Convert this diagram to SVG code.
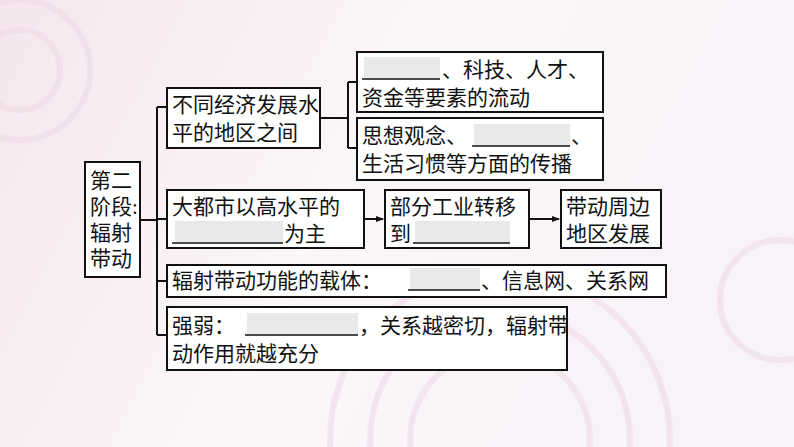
<svg xmlns="http://www.w3.org/2000/svg" width="794" height="447" viewBox="0 0 794 447">
<defs>
<linearGradient id="bg" x1="0" y1="0" x2="1" y2="0.3"><stop offset="0" stop-color="#f6e6ee"/><stop offset="0.5" stop-color="#fbf6f8"/><stop offset="1" stop-color="#f7f3f8"/></linearGradient>
<marker id="ar" markerWidth="8" markerHeight="8" refX="7" refY="4" orient="auto" markerUnits="userSpaceOnUse"><path d="M0,1 L8,4 L0,7 Z" fill="#111"/></marker>
<style>
.box{fill:#fff;stroke:#111;stroke-width:2}
.t{font-family:"Liberation Serif","Noto Sans CJK SC",serif;font-size:21px;fill:#111}
.bl{fill:#e9e9e9}
.ln{stroke:#111;stroke-width:1.5}
.c{fill:none;stroke:#111;stroke-width:2}
</style>
</defs>
<rect width="794" height="447" fill="url(#bg)"/>
<g fill="none" stroke="#f0dbe6" stroke-width="6" opacity="0.6">
<circle cx="20" cy="70" r="40"/><circle cx="20" cy="70" r="70"/>
<circle cx="500" cy="440" r="90"/><circle cx="500" cy="440" r="130"/><circle cx="500" cy="440" r="170"/>
<circle cx="780" cy="300" r="60"/>
</g>
<g id="connectors">
<path class="c" d="M140,220 H157 M157,107 V335 M157,107 H167 M157,219 H167 M157,281 H167 M157,335 H167"/>
<path class="c" d="M320,118 H348 M348,82 V148 M348,82 H357 M348,148 H357"/>
<path class="c" d="M364,219 H383" marker-end="url(#ar)"/>
<path class="c" d="M529,219 H559" marker-end="url(#ar)"/>
</g>
<g id="n0"><rect class="box" x="85" y="162" width="55" height="115"/>
<text class="t" x="90" y="188">第二</text><text class="t" x="90" y="214">阶段:</text><text class="t" x="90" y="240">辐射</text><text class="t" x="90" y="266">带动</text></g>
<g id="nA"><rect class="box" x="167" y="88" width="153" height="60"/>
<text class="t" x="172" y="112">不同经济发展水</text><text class="t" x="172" y="140">平的地区之间</text></g>
<g id="nB1"><rect class="box" x="357" y="52" width="246" height="60"/>
<rect class="bl" x="364" y="57" width="76" height="21"/><line class="ln" x1="362" y1="79" x2="440" y2="79"/>
<text class="t" x="442" y="77">、科技、人才、</text><text class="t" x="362" y="105">资金等要素的流动</text></g>
<g id="nB2"><rect class="box" x="357" y="118" width="246" height="62"/>
<rect class="bl" x="474" y="124" width="96" height="21"/><line class="ln" x1="472" y1="146" x2="570" y2="146"/>
<text class="t" x="362" y="143">思想观念、</text><text class="t" x="571" y="143">、</text><text class="t" x="362" y="171">生活习惯等方面的传播</text></g>
<g id="nC1"><rect class="box" x="167" y="190" width="197" height="58"/>
<rect class="bl" x="175" y="221" width="108" height="21"/><line class="ln" x1="172" y1="243" x2="283" y2="243"/>
<text class="t" x="172" y="214">大都市以高水平的</text><text class="t" x="284" y="241">为主</text></g>
<g id="nC2"><rect class="box" x="385" y="190" width="144" height="58"/>
<rect class="bl" x="415" y="221" width="95" height="21"/><line class="ln" x1="413" y1="243" x2="510" y2="243"/>
<text class="t" x="390" y="214">部分工业转移</text><text class="t" x="390" y="241">到</text></g>
<g id="nC3"><rect class="box" x="561" y="190" width="100" height="58"/>
<text class="t" x="566" y="214">带动周边</text><text class="t" x="566" y="241">地区发展</text></g>
<g id="nD"><rect class="box" x="167" y="265" width="499" height="32"/>
<rect class="bl" x="410" y="268" width="70" height="21"/><line class="ln" x1="408" y1="290" x2="480" y2="290"/>
<text class="t" x="172" y="288">辐射带动功能的载体：</text><text class="t" x="481" y="288">、信息网、关系网</text></g>
<g id="nE"><rect class="box" x="167" y="307" width="400" height="63"/>
<rect class="bl" x="247" y="313" width="111" height="21"/><line class="ln" x1="245" y1="335" x2="358" y2="335"/>
<text class="t" x="172" y="333">强弱：</text><text class="t" x="359" y="333">，关系越密切，辐射带</text><text class="t" x="172" y="361">动作用就越充分</text></g>
</svg>
